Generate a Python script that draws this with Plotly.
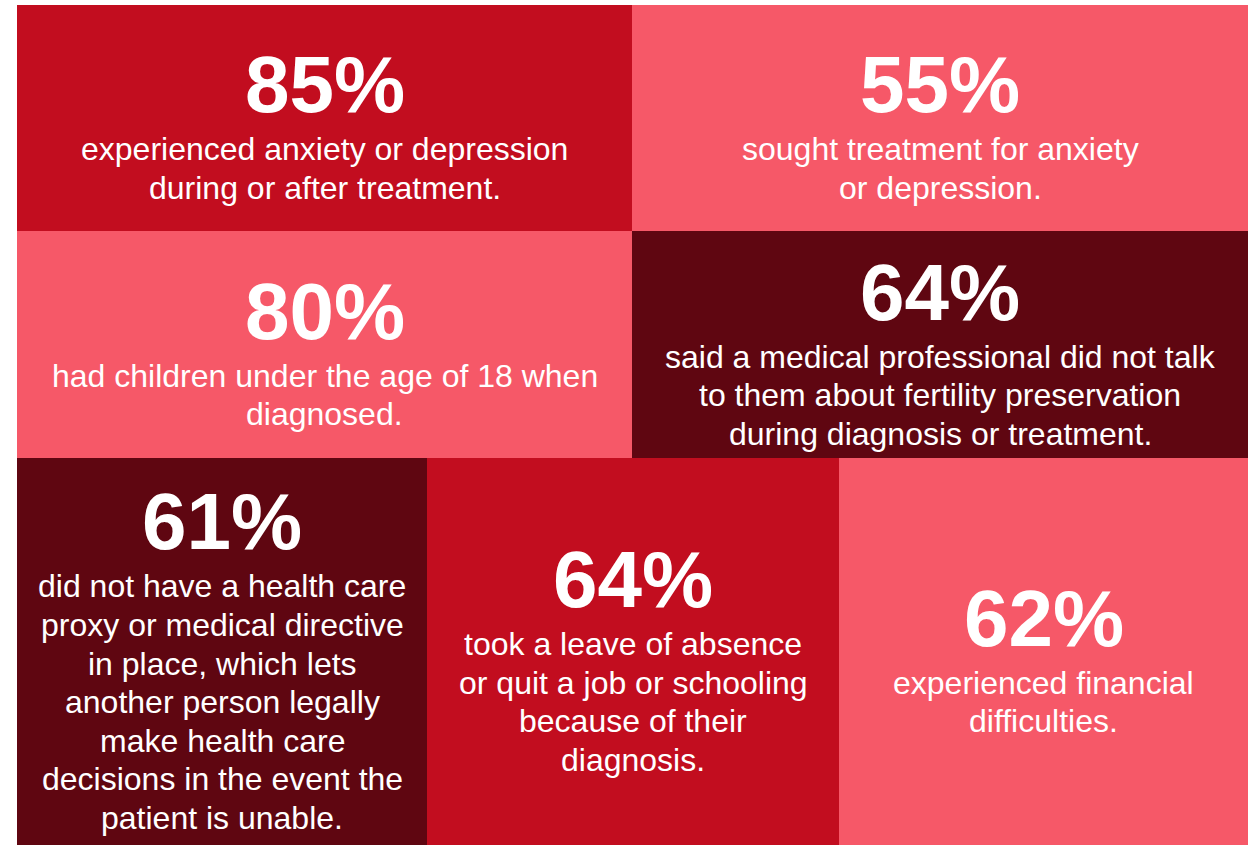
import plotly.graph_objects as go

# ---- data ----
percents = ["85%", "55%", "80%", "64%", "61%", "64%", "62%"]
descriptions = [
    ["experienced anxiety or depression", "during or after treatment."],
    ["sought treatment for anxiety", "or depression."],
    ["had children under the age of 18 when", "diagnosed."],
    ["said a medical professional did not talk", "to them about fertility preservation",
     "during diagnosis or treatment."],
    ["did not have a health care", "proxy or medical directive", "in place, which lets",
     "another person legally", "make health care", "decisions in the event the",
     "patient is unable."],
    ["took a leave of absence", "or quit a job or schooling", "because of their",
     "diagnosis."],
    ["experienced financial", "difficulties."],
]
tile_tones = ["red", "pink", "pink", "maroon", "maroon", "red", "pink"]

# ---- layout (styles / geometry) ----
W, H = 1248, 845
palette = {"red": "#C20D1F", "pink": "#F65868", "maroon": "#5F0611"}
rows = [  # (y0, y1, column edges)
    (5, 231, [17, 632, 1248]),
    (231, 458, [17, 632, 1248]),
    (458, 845, [17, 427, 839, 1248]),
]
tiles = []
for y0, y1, edges in rows:
    for a, b in zip(edges[:-1], edges[1:]):
        tiles.append((a, b, y0, y1))

FONT = "Liberation Sans, Arial, sans-serif"
NUM_SIZE = 80
BODY_SIZE = 32
LINE = 38.6          # baseline-to-baseline spacing of body lines
NUM_TO_BODY = 47.7   # number baseline to first body baseline
BASE_OFF = 0.3465    # baseline offset below middle anchor, in em


def text_ann(x, baseline, text, size):
    return dict(x=x, y=baseline - BASE_OFF * size, xref="x", yref="y", text=text,
                showarrow=False, xanchor="center", yanchor="middle", align="center",
                font=dict(family=FONT, size=size, color="white"))


fig = go.Figure()
shapes, annotations = [], []
for (x0, x1, y0, y1), pct, desc, tone in zip(tiles, percents, descriptions, tile_tones):
    shapes.append(dict(type="rect", xref="x", yref="y", x0=x0, x1=x1, y0=y0, y1=y1,
                       fillcolor=palette[tone], line=dict(width=0), layer="below"))
    cx = (x0 + x1) / 2
    cy = (y0 + y1) / 2
    n = len(desc)
    nb = cy + 14 - (n - 1) * LINE / 2
    annotations.append(text_ann(cx, nb, "<b>%s</b>" % pct, NUM_SIZE))
    for k, line in enumerate(desc):
        annotations.append(text_ann(cx, nb + NUM_TO_BODY + k * LINE, line, BODY_SIZE))

fig.add_trace(go.Scatter(x=[0, W], y=[0, H], mode="markers",
                         marker=dict(opacity=0), hoverinfo="skip", showlegend=False))
fig.update_layout(
    width=W, height=H, margin=dict(l=0, r=0, t=0, b=0),
    paper_bgcolor="white", plot_bgcolor="white",
    xaxis=dict(range=[0, W], visible=False, fixedrange=True),
    yaxis=dict(range=[H, 0], visible=False, fixedrange=True),
    shapes=shapes, annotations=annotations, showlegend=False,
)
fig.write_html("out.html", config={"displayModeBar": False},
               post_script="document.body.style.margin='0';")
